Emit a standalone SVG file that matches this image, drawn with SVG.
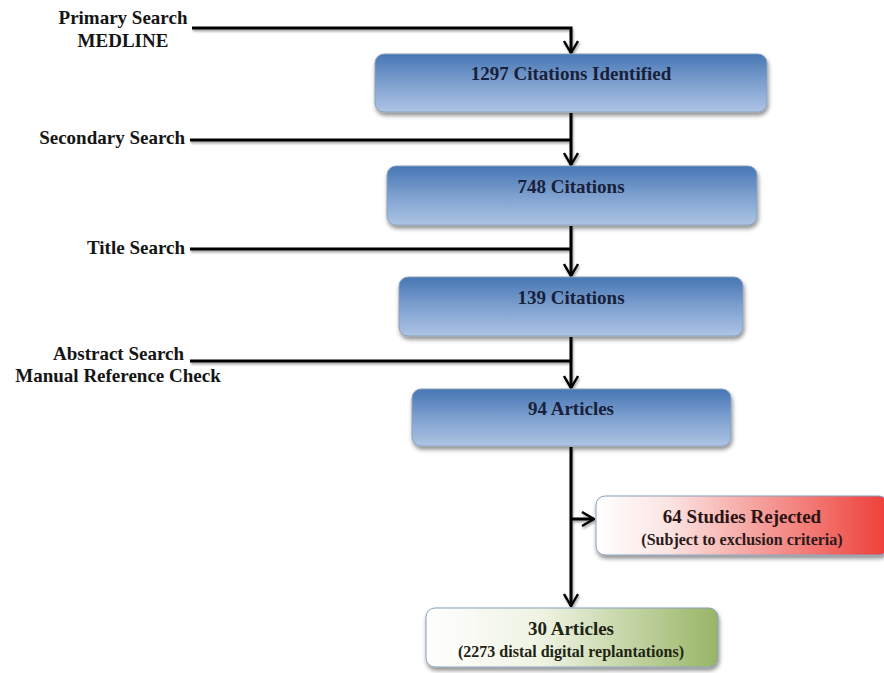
<svg xmlns="http://www.w3.org/2000/svg" width="884" height="673" viewBox="0 0 884 673">
<defs>
<linearGradient id="blue" x1="0" y1="0" x2="0" y2="1">
<stop offset="0" stop-color="#4776b4"/>
<stop offset="0.5" stop-color="#7da0cf"/>
<stop offset="1" stop-color="#adc4e4"/>
</linearGradient>
<linearGradient id="red" x1="0" y1="0" x2="1" y2="0">
<stop offset="0" stop-color="#ffffff"/>
<stop offset="0.25" stop-color="#fbe4e2"/>
<stop offset="1" stop-color="#ee3e38"/>
</linearGradient>
<linearGradient id="green" x1="0" y1="0" x2="1" y2="0">
<stop offset="0" stop-color="#ffffff"/>
<stop offset="0.4" stop-color="#eef3e2"/>
<stop offset="1" stop-color="#98b566"/>
</linearGradient>
<filter id="sh" x="-10%" y="-20%" width="120%" height="150%">
<feDropShadow dx="1" dy="3" stdDeviation="2" flood-color="#000" flood-opacity="0.45"/>
</filter>
<filter id="lsh" filterUnits="userSpaceOnUse" x="0" y="0" width="884" height="673">
<feDropShadow dx="1" dy="2" stdDeviation="1.2" flood-color="#000" flood-opacity="0.35"/>
</filter>
<marker id="arr" viewBox="0 0 14 16" refX="13" refY="8" markerWidth="14" markerHeight="16" markerUnits="userSpaceOnUse" orient="auto">
<path d="M1,1 L13,8 L1,15" fill="none" stroke="#000" stroke-width="2.4"/>
</marker>
</defs>
<style>
text{font-family:"Liberation Serif","Times New Roman",serif;font-weight:bold;}
.lbl{font-size:19px;fill:#151515;}
.bt{font-size:19px;fill:#18203a;text-anchor:middle;}
.st{font-size:16px;fill:#2a1a1a;text-anchor:middle;}
.box{stroke:#8aa0bc;stroke-width:1;filter:url(#sh);}
.ln{fill:none;stroke:#000;stroke-width:3;}
</style>
<g id="connectors" filter="url(#lsh)">
<path class="ln" d="M192,28 H571 V53" marker-end="url(#arr)"/>
<path class="ln" d="M190,140 H571"/>
<path class="ln" d="M571,113 V165" marker-end="url(#arr)"/>
<path class="ln" d="M190,249 H571"/>
<path class="ln" d="M571,226 V276" marker-end="url(#arr)"/>
<path class="ln" d="M190,361 H571"/>
<path class="ln" d="M571,337 V388" marker-end="url(#arr)"/>
<path class="ln" d="M571,447 V606" marker-end="url(#arr)"/>
<path class="ln" d="M571,519 H594" marker-end="url(#arr)"/>
</g>
<g id="label-primary">
<text class="lbl" x="123" y="24" text-anchor="middle">Primary Search</text>
<text class="lbl" x="123" y="47" text-anchor="middle">MEDLINE</text>
</g>
<g id="label-secondary"><text class="lbl" x="185" y="144" text-anchor="end">Secondary Search</text></g>
<g id="label-title"><text class="lbl" x="185" y="254" text-anchor="end">Title Search</text></g>
<g id="label-abstract">
<text class="lbl" x="184" y="360" text-anchor="end">Abstract Search</text>
<text class="lbl" x="118" y="382" text-anchor="middle">Manual Reference Check</text>
</g>
<g id="n1"><rect class="box" x="375" y="54" width="392" height="58" rx="9" fill="url(#blue)"/><text class="bt" x="571" y="80">1297 Citations Identified</text></g>
<g id="n2"><rect class="box" x="387" y="166" width="370" height="59" rx="9" fill="url(#blue)"/><text class="bt" x="571" y="193">748 Citations</text></g>
<g id="n3"><rect class="box" x="399" y="277" width="344" height="59" rx="9" fill="url(#blue)"/><text class="bt" x="571" y="304">139 Citations</text></g>
<g id="n4"><rect class="box" x="412" y="389" width="319" height="57" rx="9" fill="url(#blue)"/><text class="bt" x="571" y="415">94 Articles</text></g>
<g id="n5"><rect class="box" x="596" y="496" width="292" height="59" rx="9" fill="url(#red)" stroke="#999"/><text class="bt" x="742" y="523" style="fill:#2a1414">64 Studies Rejected</text><text class="st" x="742" y="545">(Subject to exclusion criteria)</text></g>
<g id="n6"><rect class="box" x="426" y="608" width="292" height="59" rx="9" fill="url(#green)"/><text class="bt" x="571" y="635" style="fill:#1e2414">30 Articles</text><text class="st" x="571" y="657" style="fill:#1e2414">(2273 distal digital replantations)</text></g>
</svg>
